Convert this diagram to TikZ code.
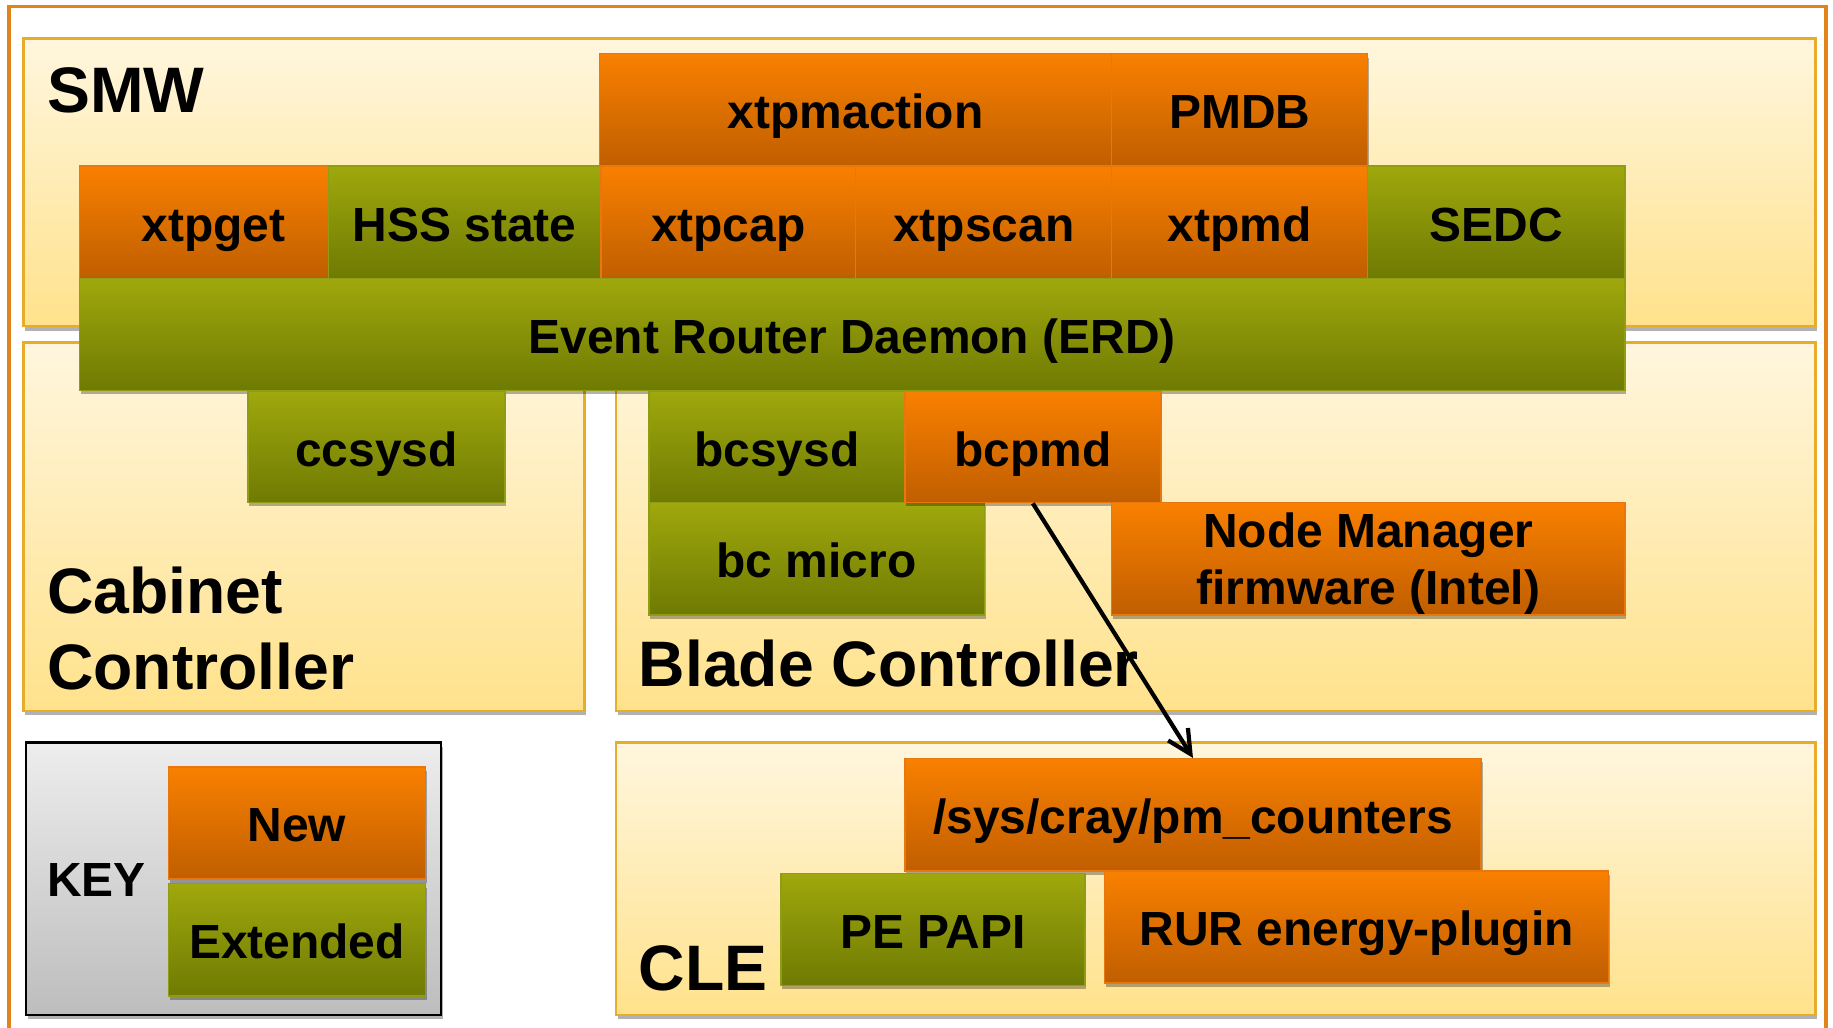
\documentclass[tikz,border=0pt]{standalone}
\usepackage{fontspec}
\setmainfont{Liberation Sans}
\usetikzlibrary{shadows,arrows.meta}
\definecolor{otop}{HTML}{F98000}
\definecolor{obot}{HTML}{C05E00}
\definecolor{oline}{HTML}{E8780E}
\definecolor{gtop}{HTML}{9FA80C}
\definecolor{gbot}{HTML}{6F7A03}
\definecolor{gline}{HTML}{8E9E14}
\definecolor{ctop}{HTML}{FFF6DE}
\definecolor{cbot}{HTML}{FFE28C}
\definecolor{cline}{HTML}{E6AC2A}
\definecolor{framecol}{HTML}{E3831B}
\definecolor{ktop}{HTML}{EDEDED}
\definecolor{kbot}{HTML}{BDBDBD}
\tikzset{
  boxbase/.style={rectangle, inner sep=0pt, align=center,
    font=\fontsize{20.5}{24}\bfseries\selectfont, text=black,
    text height=16.2pt, text depth=0pt,
    drop shadow={shadow xshift=0.6pt, shadow yshift=-1.6pt, opacity=0.3, fill=black}},
  obox/.style={boxbase, draw=oline, line width=0.6pt, top color=otop, bottom color=obot},
  gbox/.style={boxbase, draw=gline, line width=0.6pt, top color=gtop, bottom color=gbot},
  cont/.style={rectangle, inner sep=0pt, draw=cline, line width=1pt, top color=ctop, bottom color=cbot,
    drop shadow={shadow xshift=0.8pt, shadow yshift=-2pt, opacity=0.3, fill=black}},
  keycont/.style={rectangle, inner sep=0pt, draw=black, line width=1pt, top color=ktop, bottom color=kbot,
    drop shadow={shadow xshift=0.8pt, shadow yshift=-2pt, opacity=0.3, fill=black}},
  head/.style={anchor=base west, inner sep=0pt, align=left,
    font=\fontsize{27.5}{32.5}\bfseries\selectfont},
  keylbl/.style={anchor=base west, inner sep=0pt, font=\fontsize{20.5}{24}\bfseries\selectfont},
}
\newcommand\blk[7]{\node[#1, minimum width={(#4-#2)*0.5pt}, minimum height={(#5-#3)*0.5pt}] (#6) at ({(#2+#4)/2},{(#3+#5)/2}) {#7};}
\begin{document}
\begin{tikzpicture}[x=0.5pt,y=-0.5pt]
\useasboundingbox[fill=white] (0,0) rectangle (1568,879);
\draw[framecol, line width=1.6pt] (8,890) -- (8,5.5) -- (1562,5.5) -- (1562,890);
% containers
\blk{cont}{20}{33}{1553}{279}{smw}{}
\blk{cont}{20}{293}{500}{608}{cab}{}
\blk{cont}{527}{293}{1553}{608}{blade}{}
\blk{cont}{527}{635}{1553}{868}{cle}{}
\blk{keycont}{22}{635}{377}{868}{key}{}
% headings
\node[head] (smwlbl) at (40,96) {SMW};
\node[head, anchor=west] (cablbl) at (40,{(522+587)/2-17}) {Cabinet\\Controller};
\node[head] (bladelbl) at (546,587) {Blade Controller};
\node[head] (clelbl) at (546,847) {CLE};
\node[keylbl] (keylbl) at (40,767) {KEY};
% SMW row 1
\blk{obox}{513}{46}{951}{142}{xtpmaction}{xtpmaction}
\blk{obox}{951}{46}{1170}{142}{pmdb}{PMDB}
% SMW row 2
\blk{obox}{68}{142}{281}{238}{xtpget}{\hspace*{8pt}xtpget}
\blk{gbox}{281}{142}{514}{238}{hss}{HSS state}
\blk{obox}{514}{142}{732}{238}{xtpcap}{xtpcap}
\blk{obox}{732}{142}{951}{238}{xtpscan}{xtpscan}
\blk{obox}{951}{142}{1170}{238}{xtpmd}{xtpmd}
\blk{gbox}{1170}{142}{1390}{238}{sedc}{SEDC}
% ERD
\blk{gbox}{68}{238}{1390}{334}{erd}{Event Router Daemon (ERD)}
% cabinet controller
\blk{gbox}{212}{335}{432}{430}{ccsysd}{ccsysd}
% blade controller
\blk{gbox}{555}{335}{774}{430}{bcsysd}{bcsysd}
\blk{gbox}{555}{430}{842}{526}{bcmicro}{bc micro}
\blk{obox}{774}{335}{993}{430}{bcpmd}{bcpmd}
\blk{obox}{951}{430}{1390}{526}{nm}{}
\node[font=\fontsize{20.5}{24.5}\bfseries\selectfont, align=center, inner sep=0pt, anchor=base] (nmtxt) at ([yshift=-44pt]nm.north) {Node Manager\\firmware (Intel)};
% CLE
\blk{obox}{774}{649}{1267}{745}{pmc}{/sys/cray/pm\_counters}
\blk{gbox}{668}{747}{928}{843}{papi}{PE PAPI}
\blk{obox}{945}{745}{1376}{841}{rur}{RUR energy-plugin}
% key
\blk{obox}{144}{656}{364}{752}{knew}{New}
\blk{gbox}{144}{756}{364}{852}{kext}{Extended}
% arrow
\draw[line width=1.8pt, -{Straight Barb[length=10pt,width=10pt]}] (bcpmd.south) -- (pmc.north);
\end{tikzpicture}
\end{document}
